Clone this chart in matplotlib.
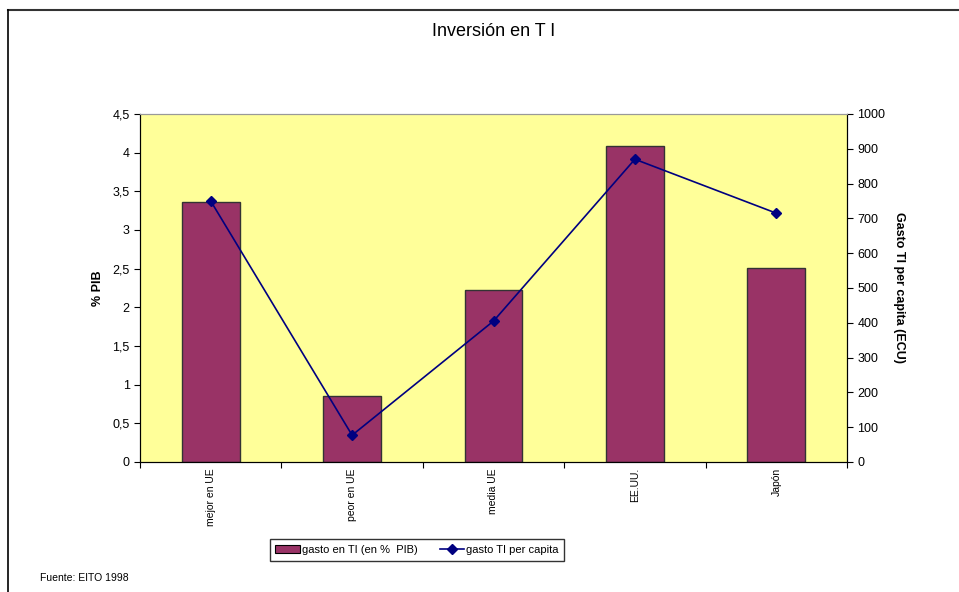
import matplotlib.pyplot as plt
import matplotlib.lines as mlines
import matplotlib.patches as mpatches
import numpy as np
from matplotlib.ticker import FuncFormatter
from matplotlib import font_manager

plt.rcParams['font.family'] = ['Liberation Sans', 'DejaVu Sans']
names = set(f.name for f in font_manager.fontManager.ttflist)
narrow = 'Liberation Sans Narrow' if 'Liberation Sans Narrow' in names else 'Liberation Sans'

categories = ["mejor en UE", "peor en UE", "media UE", "EE.UU.", "Japón"]
gastoPib = [3.36, 0.85, 2.22, 4.08, 2.51]
gastoPerCapita = [750, 77, 405, 870, 715]

barColor = "#993366"
lineColor = "#000080"
bgColor = "#FFFF99"

fig = plt.figure(figsize=(9.59, 5.92), dpi=100)
ax = fig.add_axes([140 / 959, 1 - 462 / 592, 707 / 959, 348 / 592])
ax.set_facecolor(bgColor)

x = np.arange(len(categories))
ax.bar(x, gastoPib, 0.41, color=barColor, edgecolor="#333333", linewidth=1.0, zorder=2)
ax.set_xlim(-0.5, len(categories) - 0.5)
ax.set_ylim(0, 4.5)
ax.set_yticks(np.arange(0, 4.51, 0.5))
ax.yaxis.set_major_formatter(FuncFormatter(lambda v, p: ("%g" % v).replace(".", ",")))
ax.set_xticks(np.arange(-0.5, len(categories), 1.0))
ax.set_xticklabels([])
ax.tick_params(axis="x", length=4, direction="out")
ax.tick_params(axis="y", labelsize=9, length=4, direction="out")
for i, c in enumerate(categories):
	ax.text(i, -0.08, c, rotation=90, ha="center", va="top", fontsize=7.5, transform=ax.transData)
ax.set_ylabel("% PIB", fontsize=9, fontweight="bold", labelpad=6)
ax.spines["top"].set_color("#999999")
ax.spines["right"].set_color("black")

ax2 = ax.twinx()
ax2.plot(x, gastoPerCapita, color=lineColor, linewidth=1.2, marker="D", markersize=5, zorder=3)
ax2.set_ylim(0, 1000)
ax2.set_yticks(np.arange(0, 1001, 100))
ax2.tick_params(axis="y", labelsize=9, length=4, direction="out")
ax2.set_ylabel("Gasto TI per capita (ECU)", fontsize=9, fontweight="bold", rotation=270, labelpad=14)
ax2.spines["top"].set_color("#999999")

fig.text(494 / 959, 1 - 32 / 592, "Inversión en T I", ha="center", va="center", fontsize=13)
fig.text(40 / 959, 1 - 578 / 592, "Fuente: EITO 1998", ha="left", va="center", fontsize=7.5)

# frame lines (top and left)
fig.add_artist(mlines.Line2D([8 / 959, 1], [1 - 10 / 592, 1 - 10 / 592], transform=fig.transFigure, color="#333333", linewidth=1.5))
fig.add_artist(mlines.Line2D([8 / 959, 8 / 959], [0, 1 - 10 / 592], transform=fig.transFigure, color="black", linewidth=1.2))

barHandle = mpatches.Patch(facecolor=barColor, edgecolor="black", linewidth=0.8)
lineHandle = mlines.Line2D([], [], color=lineColor, marker="D", markersize=5, linewidth=1.2)
legSize = 9.5 if narrow != 'Liberation Sans' else 8
leg = fig.legend([barHandle, lineHandle], ["gasto en TI (en %  PIB)", "gasto TI per capita"],
	loc="center", bbox_to_anchor=(417 / 959, 1 - 550 / 592), ncol=2,
	prop={"family": narrow, "size": legSize},
	frameon=True, fancybox=False, edgecolor="black", columnspacing=2.0, handlelength=2.2,
	handletextpad=0.2, borderpad=0.5, borderaxespad=0)
leg.get_frame().set_linewidth(1.0)

plt.savefig("out.png", dpi=100)
